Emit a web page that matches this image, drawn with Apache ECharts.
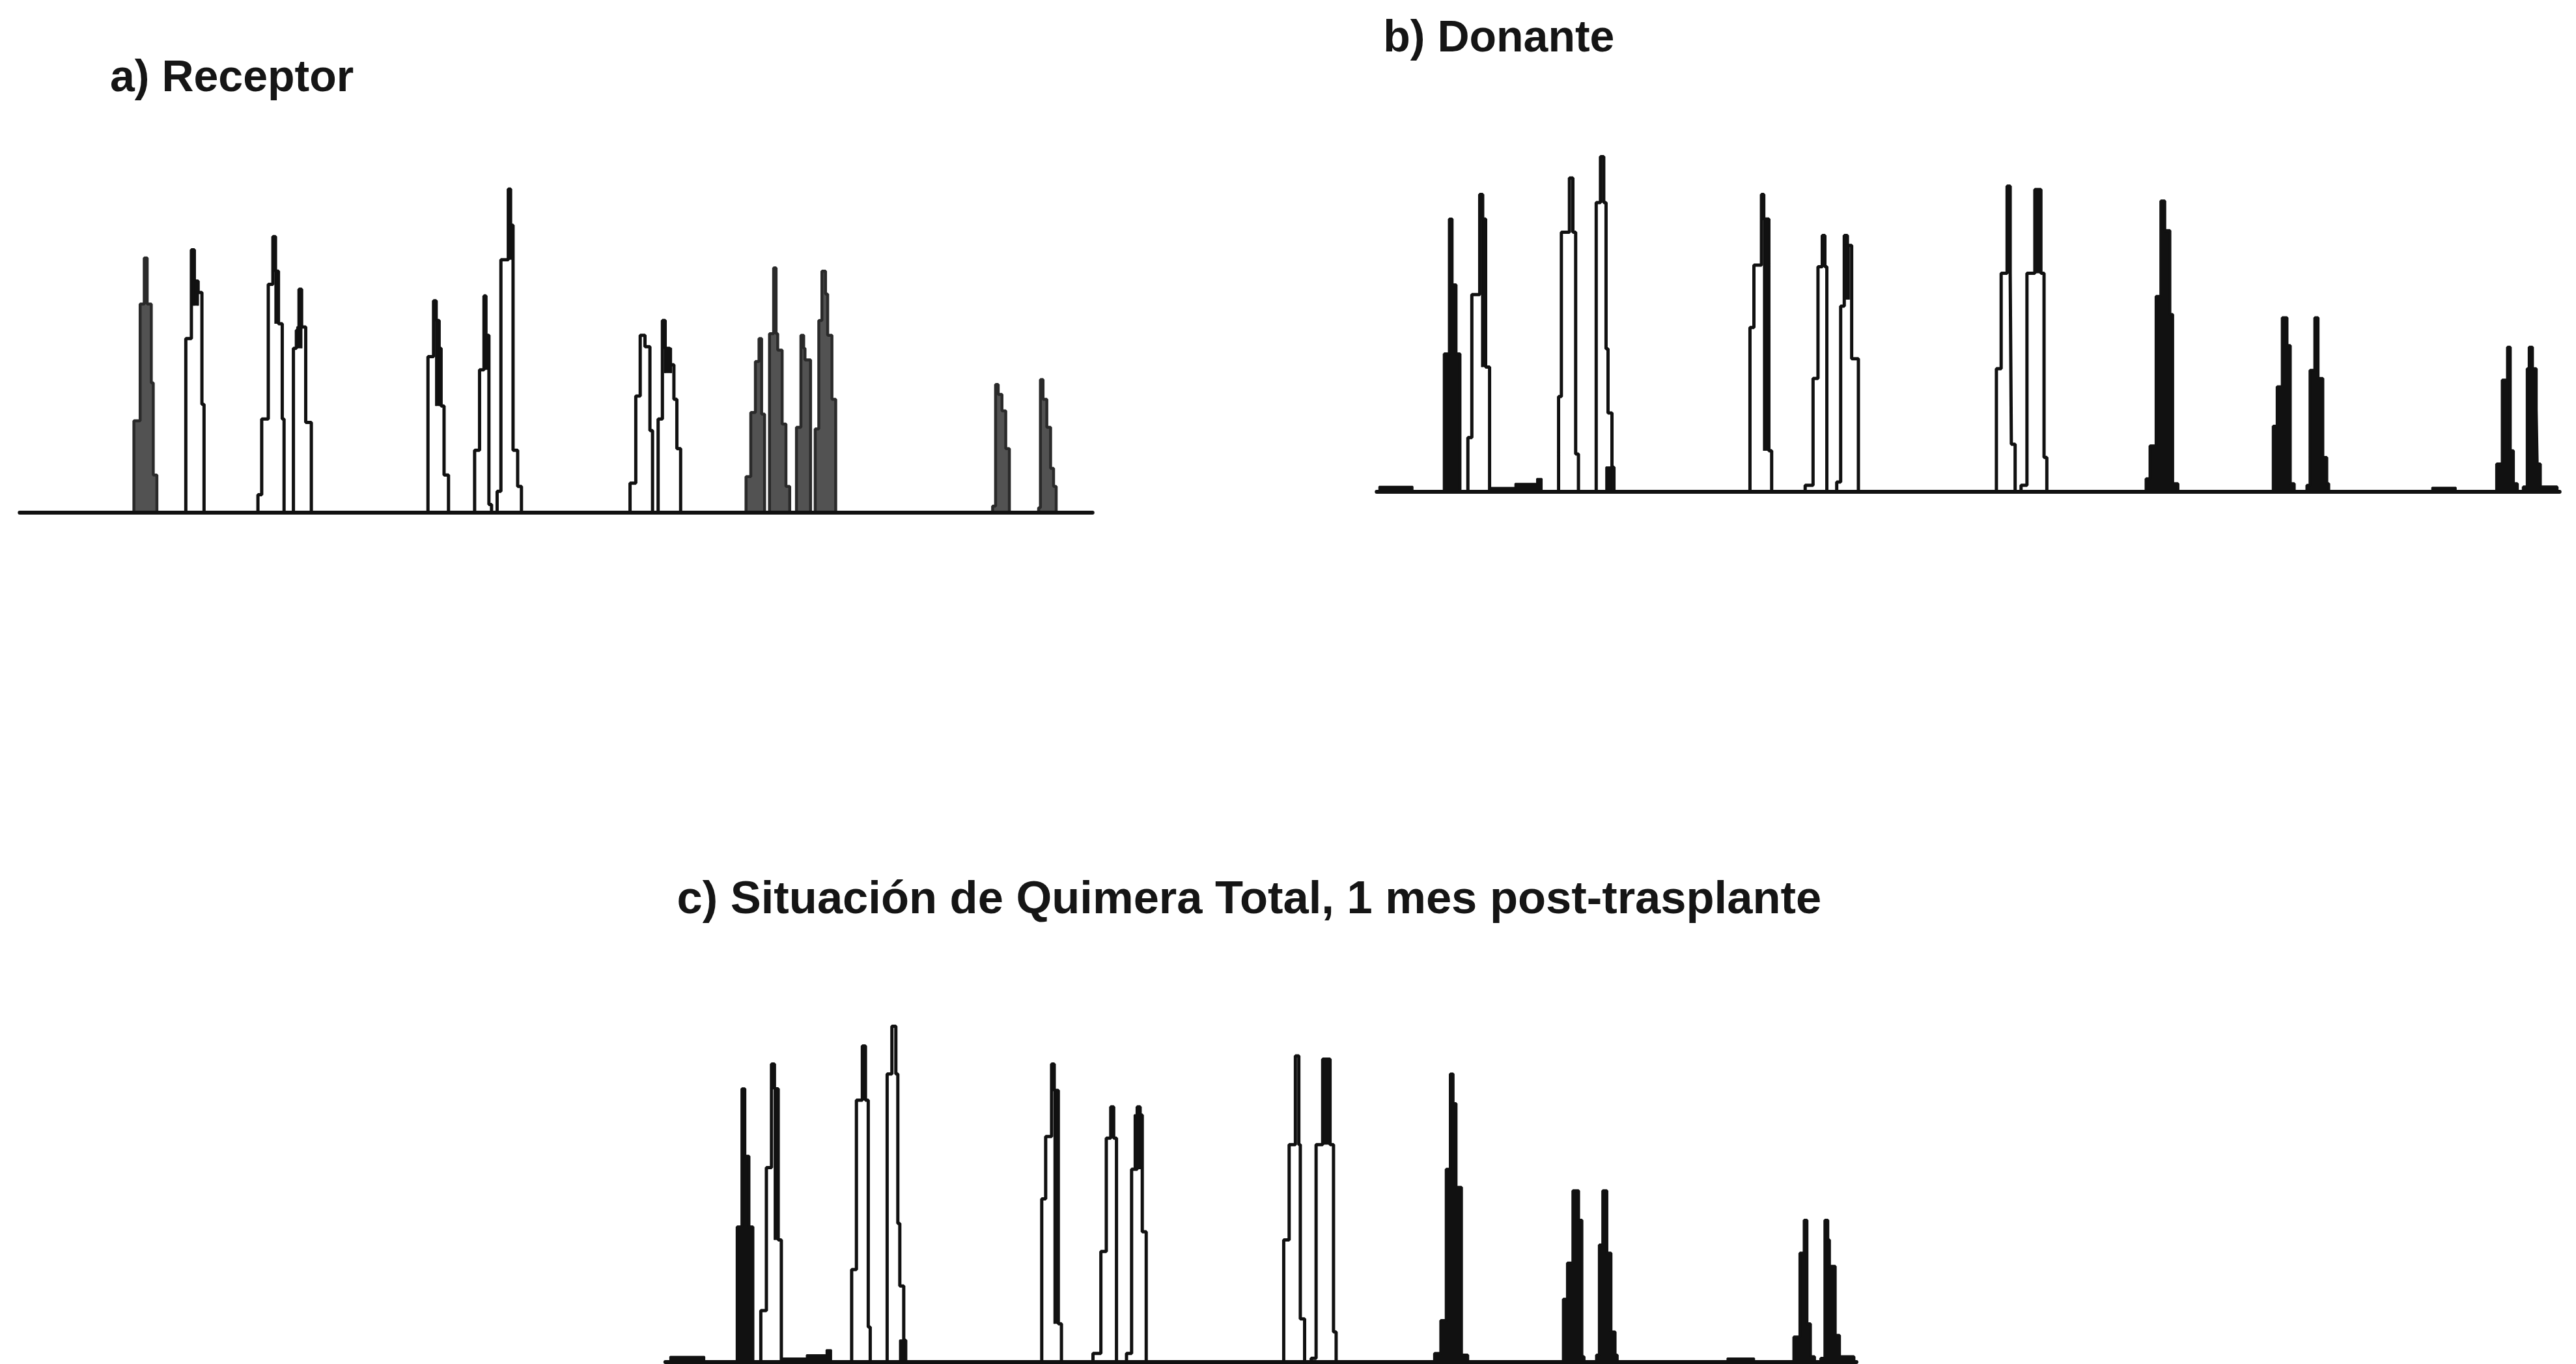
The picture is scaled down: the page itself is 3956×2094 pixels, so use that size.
<!DOCTYPE html>
<html><head><meta charset="utf-8">
<script src="https://cdn.jsdelivr.net/npm/echarts/dist/echarts.min.js"></script>
<style>html,body{margin:0;padding:0;background:#fff}#c{width:3956px;height:2094px}</style>
</head><body><div id="c"></div><script>
// ---- text ----
const titleTexts = ['a) Receptor', 'b) Donante', 'c) Situación de Quimera Total, 1 mes post-trasplante'];

// ---- data: each peak is a list of [position, height] steps (height held until next position) ----
// Panel a) Receptor
const panelA_gray = [
  [[81.5,56],[85.3,127],[87.8,155],[89.6,127],[92.1,79],[93.3,23],[95.5,0]],
  [[454.1,22],[457,61],[459.8,92],[462,106],[463.6,60],[465.4,0]],
  [[468.4,109],[470.9,149],[472.4,109],[473.4,99],[476.1,54],[478.4,16],[480.7,0]],
  [[484.8,52],[487.5,108],[489.2,100],[490,93],[493.4,0]],
  [[496.2,51],[498.4,117],[500.3,147],[502.5,133],[503.8,108],[506.4,69],[508.7,0]],
  [[604.2,4],[606,78],[607.6,72],[609.9,62],[612.2,39],[614.4,0]],
  [[632.2,3],[633.3,81],[634.9,69],[637.2,52],[639.5,27],[641.3,16],[642.9,0]]
];
const panelA_open = [
  [[113.1,106],[116.5,160],[118.3,141],[120.6,134],[122.9,66],[124.2,0]],
  [[157.0,11],[159.3,57],[163.3,139],[166.1,168],[167.7,147],[169.5,115],[171.8,57],[172.9,0]],
  [[178.6,100],[180.4,111],[182,136],[183.6,113],[186.1,55],[189.5,0]],
  [[260.5,95],[263.9,129],[265.5,117],[267.3,100],[268.5,65],[270.3,23],[273.0,0]],
  [[288.9,38],[291.9,87],[294.6,132],[295.8,108],[297.6,5],[299.2,0]],
  [[302.6,13],[304.9,154],[309.4,197],[310.8,175],[312.3,38],[315.1,16],[317.4,0]],
  [[383.5,18],[387,71],[389.7,108],[392.6,101],[395.6,50],[397.2,0]],
  [[400.6,57],[403.2,117],[404.9,100],[407.7,90],[410.2,69],[412,39],[414.3,0]]
];
// dark tips inside open peaks: [from, to, low, high]
const panelA_caps = [
  [117.8,120.6,126,141],[167.5,169.5,115,147],[180.8,183.6,100,113],
  [265.3,267.5,65,117],[294.6,297.6,87,108],[309.4,312.3,154,175],[404.6,408.6,85,100]
];
const panelA_noise = [];

// Panel b) Donante
const panelB_black = [
  [[879.1,84],[882.2,166],[883.9,126],[886.3,84],[888.7,0]],
  [[1306.3,8],[1308.7,28],[1312.4,119],[1315.3,177],[1317.7,159],[1320.8,108],[1322.5,5],[1325.7,0]],
  [[1383.7,40],[1386.1,64],[1389.2,106],[1392.1,89],[1394.1,5],[1396.5,0]],
  [[1404.2,4],[1406.1,74],[1409,106],[1411,69],[1413.9,21],[1416.3,5],[1417.5,0]],
  [[1519.7,17],[1523.1,68],[1526.3,88],[1528,25],[1529.9,5],[1532.3,0]],
  [[1535.9,3],[1538.3,75],[1539.5,88],[1541.5,75],[1543.8,50],[1544.4,17],[1546.3,3],[1556.5,0]]
];
const panelB_open = [
  [[893.5,33],[895.9,120],[900.7,181],[902.5,166],[904.3,76],[906.7,0]],
  [[948.7,58],[950.4,158],[955.3,191],[957.4,158],[959.1,23],[960.8,0]],
  [[971.6,176],[974.2,204],[976.2,176],[977.6,87],[978.8,48],[981.2,15],[982.4,0]],
  [[1065.2,100],[1067.6,138],[1072.2,181],[1073.6,166],[1076.7,25],[1078.4,0]],
  [[1098.8,4],[1103.6,69],[1106.6,137],[1109.2,156],[1110.8,137],[1112,0]],
  [[1118,6],[1120.4,113],[1122.6,156],[1124.5,150],[1127.1,81],[1131.2,0]],
  [[1215.2,75],[1218.1,133],[1221.7,186],[1223.6,133],[1224.3,29],[1226.6,0]],
  [[1230.2,4],[1233.8,133],[1238.6,184],[1242.3,133],[1244.2,21],[1245.9,0]]
];
const panelB_caps = [
  [902.0,904.3,76,166],[977.6,981.2,0,15],[1073.6,1076.7,25,166],
  [1122.6,1125.5,117,150],[1238.6,1242.3,133,184]
];
const panelB_noise = [
  [[839.5,3.2],[859.9,0]],
  [[899.5,2.5],[922.3,5],[935.5,8],[938.5,0]],
  [[1480.4,2.6],[1494.9,0]]
];

// Panel c) Quimera total
const panelC_black = [
  [[448.7,82],[451.6,166],[453.4,125],[455.9,82],[458.3,0]],
  [[873.2,5],[877,25],[880.3,117],[882.8,175],[884.5,157],[886.3,106],[889.6,4],[893.4,0]],
  [[951.6,38],[954.1,60],[957.4,104],[960.9,86],[962.9,3],[964.2,0]],
  [[971.8,4],[973.5,71],[975.6,104],[978.1,66],[980.6,18],[983.1,4],[984.4,0]],
  [[1091.9,15],[1095.6,66],[1098.2,86],[1099.9,23],[1102,3],[1104.5,0]],
  [[1108.3,2],[1110.8,86],[1112.6,74],[1113.6,58],[1117.1,16],[1119.7,3],[1128.5,0]]
];
const panelC_open = [
  [[463.1,31],[466.5,118],[469.6,181],[471.4,166],[473.7,74],[475.6,0]],
  [[518.4,56],[521.3,159],[524.9,192],[526.8,159],[528.5,21],[529.7,0]],
  [[540,175],[542.9,204],[545.3,175],[546.5,84],[547.7,46],[550.1,13],[551.3,0]],
  [[634.1,99],[636.5,137],[640.1,181],[641.7,165],[644.2,23],[646.1,0]],
  [[665.3,5],[670.1,67],[673.4,136],[676.1,155],[677.9,136],[679.6,0]],
  [[685.7,5],[688.8,117],[692.2,155],[694,150],[695.3,79],[697.7,0]],
  [[781.4,74],[784.7,132],[788.5,186],[790.6,132],[791.5,26],[794.1,0]],
  [[798.1,2],[801.1,132],[805.1,184],[809.6,132],[811.7,18],[813.3,0]]
];
const panelC_caps = [
  [471.4,473.7,74,166],[547.7,550.1,0,13],[641.7,644.2,23,165],
  [690.5,694,117,150],[805.1,809.6,132,184]
];
const panelC_noise = [
  [[407.9,3],[428.8,0]],
  [[468,2],[491,4],[503,7],[506,0]],
  [[1051.4,2],[1067.8,0]]
];

// ---- layout ----
const S = 3956 / 1568;
const YMAX = 220;
const panels = [
  {title: titleTexts[0], tx: 67, ty: 48, fs: 68, xMin: 12, xMax: 665, base: 312,
   filled: panelA_gray, open: panelA_open, caps: panelA_caps, noise: panelA_noise, fill: '#525252', edge: '#2a2a2a'},
  {title: titleTexts[1], tx: 842, ty: 24, fs: 68, xMin: 838, xMax: 1558, base: 299.3,
   filled: panelB_black, open: panelB_open, caps: panelB_caps, noise: panelB_noise, fill: '#111111', edge: '#111111'},
  {title: titleTexts[2], tx: 412, ty: 548, fs: 70.5, xMin: 405, xMax: 1130, base: 828.5,
   filled: panelC_black, open: panelC_open, caps: panelC_caps, noise: panelC_noise, fill: '#111111', edge: '#111111'}
];

const grid = [], xAxis = [], yAxis = [], series = [], graphic = [];
panels.forEach((p, i) => {
  grid.push({left: p.xMin * S, width: (p.xMax - p.xMin) * S, top: (p.base - YMAX) * S, height: YMAX * S});
  xAxis.push({gridIndex: i, type: 'value', min: p.xMin, max: p.xMax, z: 10,
    axisLine: {show: true, onZero: false, lineStyle: {color: '#111', width: 6}},
    axisTick: {show: false}, axisLabel: {show: false}, splitLine: {show: false}});
  yAxis.push({gridIndex: i, type: 'value', min: 0, max: YMAX, show: false});
  const mk = (steps, fill, edge, w, z) => ({
    type: 'line', xAxisIndex: i, yAxisIndex: i, step: 'end', symbol: 'none', silent: true,
    animation: false, z: z, data: [[steps[0][0], 0]].concat(steps),
    lineStyle: {color: edge, width: w}, areaStyle: {color: fill, opacity: 1, origin: 'start'}
  });
  p.noise.forEach(s => series.push(mk(s, '#111', '#111', 2.5, 2)));
  p.filled.forEach(s => series.push(mk(s, p.fill, p.edge, 4.5, 3)));
  p.open.forEach(s => series.push(mk(s, '#ffffff', '#111111', 5, 4)));
  p.caps.forEach(c => series.push({
    type: 'line', xAxisIndex: i, yAxisIndex: i, step: 'end', symbol: 'none', silent: true,
    animation: false, z: 5, data: [[c[0], c[2]], [c[0], c[3]], [c[1], c[2]]],
    lineStyle: {color: '#111', width: 2.5}, areaStyle: {color: '#111', opacity: 1, origin: c[2]}
  }));
  graphic.push({type: 'text', x: p.tx * S, y: p.ty * S, silent: true,
    style: {text: p.title, font: 'bold ' + p.fs + 'px "Liberation Sans", Arial, sans-serif', fill: '#151515',
      align: 'left', verticalAlign: 'middle'}});
});

const chart = echarts.init(document.getElementById('c'), null, {renderer: 'canvas'});
chart.setOption({backgroundColor: '#ffffff', animation: false, grid, xAxis, yAxis, series, graphic});
</script></body></html>
